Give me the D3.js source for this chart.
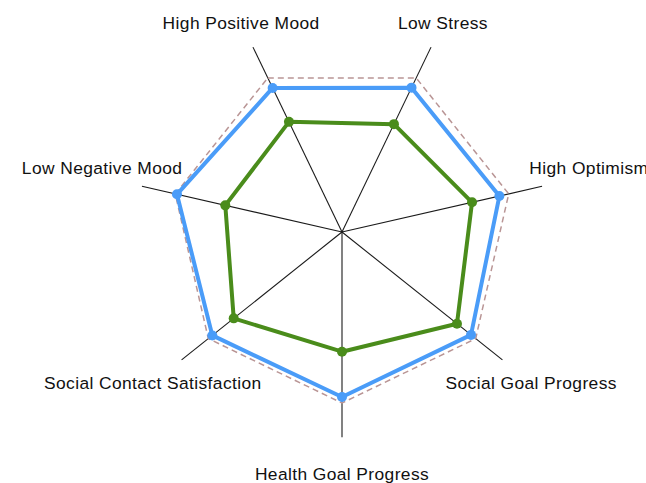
<!DOCTYPE html>
<html>
<head>
<meta charset="utf-8">
<script src="https://cdn.jsdelivr.net/npm/d3@7"></script>
<style>
  html, body { margin: 0; padding: 0; background: #fff; overflow: hidden; }
  svg { display: block; }
  text { font-family: "Liberation Sans", Arial, Helvetica, sans-serif; }
</style>
</head>
<body>
<svg id="chart" width="646" height="483"></svg>
<script>
const axes = ["High Positive Mood", "Low Stress", "High Optimism", "Social Goal Progress",
              "Health Goal Progress", "Social Contact Satisfaction", "Low Negative Mood"];
const blueValues  = [0.935, 0.937, 0.944, 0.965, 0.965, 0.97, 0.99];
const greenValues = [0.715, 0.70, 0.78, 0.86, 0.70, 0.81, 0.70];
const refValues   = [1, 1, 1, 1, 1, 1, 1];
const maxValue = 1;

const W = 646, H = 483;
const cx = 342, cy = 232;
const svg = d3.select("#chart");
const g = svg.append("g").attr("transform", `translate(${cx},${cy})`);

const rScale = d3.scaleLinear().domain([0, maxValue]).range([0, 171]);
const angle = d3.scaleLinear().domain([0, axes.length]).range([-Math.PI / 7, 2 * Math.PI - Math.PI / 7]);

const px = (v, i) => rScale(v) * Math.sin(angle(i));
const py = (v, i) => -rScale(v) * Math.cos(angle(i));

// axis lines
g.selectAll(".axis").data(axes).join("line")
  .attr("x1", 0).attr("y1", 0)
  .attr("x2", (d, i) => px(maxValue * 1.2, i))
  .attr("y2", (d, i) => py(maxValue * 1.2, i))
  .attr("stroke", "#1a1a1a").attr("stroke-width", 1.1);

// labels
const isSide = i => Math.abs(Math.cos(angle(i))) < 0.3;
const labelFactor = i => {
  const c = Math.cos(angle(i));
  return c > 0.5 ? 1.36 : (isSide(i) ? 1.46 : 1.415);
};
g.selectAll(".lbl").data(axes).join("text")
  .attr("text-anchor", "middle")
  .attr("dy", "0.35em")
  .attr("x", (d, i) => px(labelFactor(i), i) + (isSide(i) ? 3.5 : 0))
  .attr("y", (d, i) => py(labelFactor(i), i) + (isSide(i) ? -8.5 : 0))
  .attr("font-size", 17.4)
  .attr("letter-spacing", 0.4)
  .attr("fill", "#111")
  .text(d => d);

const line = d3.lineRadial()
  .radius(d => rScale(d))
  .angle((d, i) => angle(i))
  .curve(d3.curveLinearClosed);

// reference dashed polygon
g.append("path").datum(refValues)
  .attr("d", line)
  .attr("fill", "none")
  .attr("stroke", "#b99595")
  .attr("stroke-width", 1.5)
  .attr("stroke-dasharray", "6,4");

const series = [
  { values: blueValues, color: "#4a9cf8" },
  { values: greenValues, color: "#4a8c1b" }
];

series.forEach(s => {
  g.append("path").datum(s.values)
    .attr("d", line)
    .attr("fill", "none")
    .attr("stroke", s.color)
    .attr("stroke-width", 4)
    .attr("stroke-linejoin", "round");
  g.selectAll(null).data(s.values).join("circle")
    .attr("cx", (d, i) => px(d, i))
    .attr("cy", (d, i) => py(d, i))
    .attr("r", 5)
    .attr("fill", s.color);
});
</script>
</body>
</html>
